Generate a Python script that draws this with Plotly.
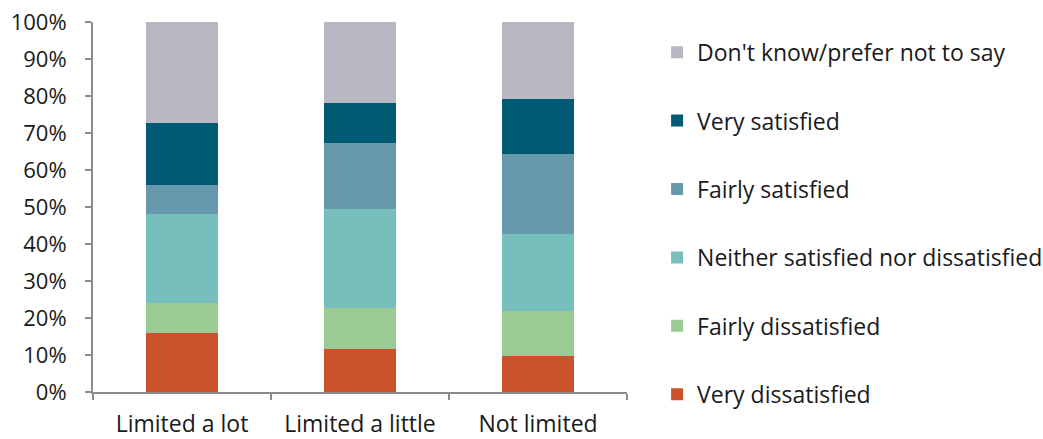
import plotly.graph_objects as go

categories = ["Limited a lot", "Limited a little", "Not limited"]
series_names = ["Very dissatisfied", "Fairly dissatisfied", "Neither satisfied nor dissatisfied",
                "Fairly satisfied", "Very satisfied", "Don't know/prefer not to say"]
very_dissatisfied = [16.0, 11.7, 9.8]
fairly_dissatisfied = [8.0, 11.0, 12.0]
neither = [24.2, 26.8, 20.8]
fairly_satisfied = [7.8, 17.9, 21.8]
very_satisfied = [16.8, 10.8, 14.8]
dont_know = [27.2, 21.8, 20.8]
colors = ["#C8532A", "#9BCA94", "#76BFBD", "#6699AB", "#005A74", "#B7B8C2"]
y_ticks = [0, 10, 20, 30, 40, 50, 60, 70, 80, 90, 100]
y_tick_labels = [f"{v}%" for v in y_ticks]

values = [very_dissatisfied, fairly_dissatisfied, neither, fairly_satisfied, very_satisfied, dont_know]

font_family = "Open Sans, sans-serif"
fig = go.Figure()
n = len(series_names)
for i, (name, vals, col) in enumerate(zip(series_names, values, colors)):
    fig.add_trace(go.Bar(x=categories, y=vals, name=name, marker_color=col,
                         marker_line_width=0, legendgroup=f"g{i}", legendrank=n - i))

fig.update_layout(
    template="none",
    barmode="stack",
    bargap=0.6,
    width=1043, height=439,
    margin=dict(l=93, r=416, t=22, b=47),
    plot_bgcolor="white", paper_bgcolor="white",
    font=dict(family=font_family, size=23, color="#1a1a1a"),
    showlegend=True,
    legend=dict(
        traceorder="grouped",
        tracegroupgap=35.5,
        xref="container", yref="container",
        x=0.630, y=0.93, xanchor="left", yanchor="top",
        font=dict(size=23, family=font_family, color="#1a1a1a"),
        itemwidth=30,
        maxheight=439,
        bgcolor="rgba(0,0,0,0)",
    ),
    xaxis=dict(showline=True, linecolor="#8c8c8c", linewidth=2,
               ticks="outside", tickcolor="#8c8c8c", ticklen=6, tickwidth=2,
               tickson="boundaries", showgrid=False, ticklabelstandoff=10,
               automargin=False, tickfont=dict(size=23)),
    yaxis=dict(range=[0, 100], tickvals=y_ticks, ticktext=y_tick_labels,
               showline=True, linecolor="#8c8c8c", linewidth=2,
               ticks="outside", tickcolor="#8c8c8c", ticklen=6, tickwidth=2,
               ticklabelstandoff=14, showgrid=False, zeroline=False,
               automargin=False, tickfont=dict(size=22)),
)
fig.write_html("out.html")
